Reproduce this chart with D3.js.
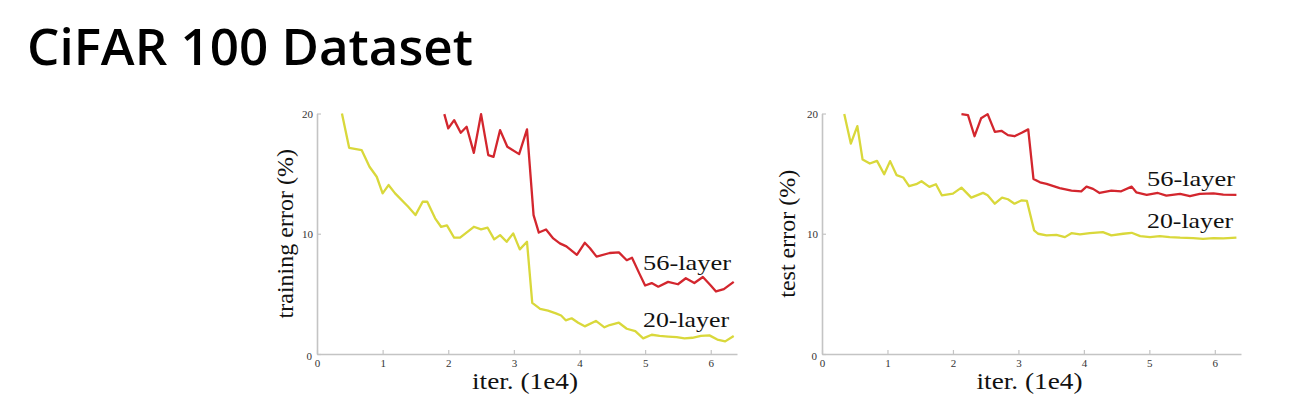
<!DOCTYPE html>
<html>
<head>
<meta charset="utf-8">
<script src="https://cdn.jsdelivr.net/npm/d3@7"></script>
<style>
  html, body { margin: 0; padding: 0; background: #fff; }
  svg { display: block; }
</style>
</head>
<body>
<svg id="chart" width="1303" height="417"></svg>
<script>
// ---- data ----
const titleText = "CiFAR 100 Dataset";
const xTicks = [0, 1, 2, 3, 4, 5, 6];
const yTicks = [0, 10, 20];
const xLabel = "iter. (1e4)";
const yLabels = ["training error (%)", "test error (%)"];
const seriesNames = ["56-layer", "20-layer"];

// training error, 20-layer
const trainIter20 = [0.38,0.49,0.68,0.80,0.91,1.00,1.09,1.19,1.39,1.50,1.61,1.68,1.80,1.89,1.98,2.09,2.18,2.39,2.50,2.60,2.70,2.79,2.89,2.99,3.09,3.20,3.28,3.40,3.52,3.64,3.72,3.79,3.88,3.98,4.08,4.25,4.38,4.46,4.60,4.72,4.85,4.97,5.10,5.22,5.35,5.48,5.60,5.72,5.85,5.98,6.10,6.22,6.35];
const trainErr20  = [20.0,17.15,16.96,15.57,14.74,13.36,14.05,13.36,12.24,11.55,12.66,12.66,11.28,10.58,10.70,9.67,9.67,10.58,10.36,10.50,9.53,9.89,9.33,10.03,8.70,9.33,4.25,3.75,3.60,3.38,3.20,2.80,2.97,2.60,2.30,2.75,2.22,2.41,2.60,2.10,1.90,1.30,1.60,1.50,1.45,1.40,1.30,1.35,1.50,1.55,1.20,1.05,1.50];
// training error, 56-layer
const trainIter56 = [1.94,2.00,2.09,2.19,2.28,2.39,2.50,2.61,2.69,2.79,2.90,3.08,3.20,3.30,3.38,3.49,3.60,3.70,3.80,3.96,4.08,4.16,4.26,4.46,4.60,4.72,4.80,4.92,5.00,5.10,5.20,5.35,5.50,5.62,5.75,5.88,6.00,6.08,6.20,6.35];
const trainErr56  = [19.95,18.76,19.45,18.40,18.90,16.73,19.95,16.54,16.40,18.62,17.23,16.62,18.68,11.55,10.10,10.35,9.61,9.20,8.95,8.25,9.25,8.80,8.10,8.40,8.45,7.80,8.00,6.60,5.70,5.90,5.60,6.00,5.80,6.30,5.90,6.40,5.70,5.20,5.40,6.00];
// test error, 20-layer
const testIter20 = [0.34,0.44,0.54,0.62,0.73,0.84,0.95,1.04,1.14,1.24,1.33,1.44,1.52,1.64,1.74,1.83,2.00,2.13,2.28,2.46,2.53,2.64,2.75,2.84,2.94,3.05,3.13,3.24,3.30,3.43,3.58,3.71,3.81,3.94,4.09,4.29,4.42,4.60,4.73,4.86,5.01,5.16,5.31,5.47,5.67,5.82,5.98,6.13,6.33];
const testErr20  = [19.95,17.5,18.95,16.17,15.84,16.06,14.95,16.04,14.87,14.68,13.96,14.12,14.37,13.90,14.12,13.20,13.34,13.84,13.00,13.40,13.20,12.50,13.00,12.87,12.50,12.78,12.73,10.28,10.00,9.86,9.90,9.72,10.05,9.94,10.05,10.13,9.86,10.00,10.08,9.80,9.72,9.80,9.72,9.67,9.64,9.58,9.64,9.61,9.67];
// test error, 56-layer
const testIter56 = [2.13,2.23,2.33,2.43,2.53,2.64,2.74,2.84,2.94,3.05,3.15,3.23,3.33,3.43,3.63,3.81,3.96,4.04,4.14,4.24,4.42,4.57,4.73,4.80,4.96,5.13,5.26,5.47,5.62,5.77,5.98,6.13,6.33];
const testErr56  = [19.95,19.87,18.11,19.60,19.95,18.47,18.56,18.20,18.11,18.40,18.68,14.56,14.28,14.15,13.80,13.58,13.53,13.92,13.73,13.39,13.58,13.53,13.92,13.45,13.23,13.39,13.17,13.31,13.12,13.31,13.36,13.25,13.23];

const panels = [
  { x0: 317, x1: 737, yLabel: yLabels[0], yLabelX: 293,
    s56: [trainIter56, trainErr56], s20: [trainIter20, trainErr20],
    lab56Y: 270, lab20Y: 327 },
  { x0: 822, x1: 1241, yLabel: yLabels[1], yLabelX: 795,
    s56: [testIter56, testErr56], s20: [testIter20, testErr20],
    lab56Y: 186, lab20Y: 228 }
];

const colors = { red: "#d3262d", yellow: "#d9d83a" };
const serif = "'Liberation Serif', 'Times New Roman', serif";

const svg = d3.select("#chart");
const defs = svg.append("defs");
defs.append("filter").attr("id", "soft")
  .append("feGaussianBlur").attr("stdDeviation", 0.45);

// title
svg.append("text")
  .attr("x", 27).attr("y", 65)
  .attr("font-family", "'Open Sans', 'Noto Sans', sans-serif")
  .attr("font-weight", 600)
  .attr("font-size", 50)
  .attr("textLength", 446).attr("lengthAdjust", "spacingAndGlyphs")
  .attr("fill", "#000")
  .text(titleText);

const yTop = 113.5, yBot = 354;

panels.forEach(p => {
  const x = d3.scaleLinear().domain([0, 6.4]).range([p.x0, p.x1]);
  const y = d3.scaleLinear().domain([0, 20]).range([yBot, yTop]);
  const g = svg.append("g");

  // x axis
  const xa = g.append("g").attr("transform", `translate(0,${yBot})`)
    .call(d3.axisBottom(x).tickValues(xTicks).tickFormat(d3.format("d"))
      .tickSizeInner(-4).tickSizeOuter(0).tickPadding(5));
  // y axis
  const ya = g.append("g").attr("transform", `translate(${p.x0},0)`)
    .call(d3.axisLeft(y).tickValues(yTicks).tickFormat(d3.format("d"))
      .tickSizeInner(-4).tickSizeOuter(0).tickPadding(4));
  [xa, ya].forEach(a => {
    a.select(".domain").attr("stroke", "#c4c4c4").attr("stroke-width", 1.6);
    a.selectAll(".tick line").attr("stroke", "#c4c4c4").attr("stroke-width", 1.2);
    a.selectAll(".tick text").attr("font-family", serif).attr("font-size", 11).attr("fill", "#333");
  });
  ya.selectAll(".tick text").filter(d => d === 0).attr("dy", "0.5em").attr("dx", "-1");

  // lines
  const line = d3.line().x(d => x(d[0])).y(d => y(d[1]));
  const zip = s => s[0].map((v, i) => [v, s[1][i]]);
  g.append("path").datum(zip(p.s20)).attr("d", line)
    .attr("fill", "none").attr("stroke", colors.yellow).attr("stroke-width", 2.3)
    .attr("stroke-linejoin", "round").attr("filter", "url(#soft)");
  g.append("path").datum(zip(p.s56)).attr("d", line)
    .attr("fill", "none").attr("stroke", colors.red).attr("stroke-width", 2.3)
    .attr("stroke-linejoin", "round").attr("filter", "url(#soft)");

  // series labels
  g.append("text").attr("x", p.x1 - 6).attr("y", p.lab56Y)
    .attr("text-anchor", "end").attr("font-family", serif).attr("font-size", 21)
    .attr("textLength", 88).attr("lengthAdjust", "spacingAndGlyphs").attr("fill", "#111")
    .text(seriesNames[0]);
  g.append("text").attr("x", p.x1 - 8).attr("y", p.lab20Y)
    .attr("text-anchor", "end").attr("font-family", serif).attr("font-size", 21)
    .attr("textLength", 86).attr("lengthAdjust", "spacingAndGlyphs").attr("fill", "#111")
    .text(seriesNames[1]);

  // axis titles
  g.append("text").attr("x", (p.x0 + p.x1) / 2 - 2).attr("y", 389)
    .attr("text-anchor", "middle").attr("font-family", serif).attr("font-size", 23)
    .attr("textLength", 106).attr("lengthAdjust", "spacingAndGlyphs").attr("fill", "#111")
    .text(xLabel);
  g.append("text")
    .attr("transform", `translate(${p.yLabelX},${(yTop + yBot) / 2}) rotate(-90)`)
    .attr("text-anchor", "middle").attr("font-family", serif).attr("font-size", 24)
    .attr("fill", "#111")
    .text(p.yLabel);
});
</script>
</body>
</html>
